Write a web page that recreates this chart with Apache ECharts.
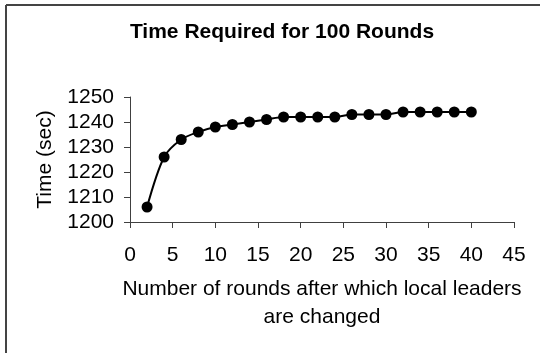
<!DOCTYPE html>
<html>
<head>
<meta charset="utf-8">
<script src="https://cdn.jsdelivr.net/npm/echarts@6/dist/echarts.min.js"></script>
<style>
  html, body { margin: 0; padding: 0; background: #fff; }
  #chart { width: 540px; height: 353px; }
</style>
</head>
<body>
<div id="chart"></div>
<script>
// rounds after which local leaders change
var rounds = [2, 4, 6, 8, 10, 12, 14, 16, 18, 20, 22, 24, 26, 28, 30, 32, 34, 36, 38, 40]
// time needed for 100 rounds (sec)
var timeSec = [1206, 1226, 1233, 1236, 1238, 1239, 1240, 1241, 1242, 1242,
  1242, 1242, 1243, 1243, 1243, 1244, 1244, 1244, 1244, 1244]

var font = 'Arial, "Liberation Sans", sans-serif'
var axisColor = '#404040'

var points = rounds.map(function (r, i) { return [r, timeSec[i]] })

var chart = echarts.init(document.getElementById('chart'))
var option = {
  animation: false,
  backgroundColor: '#fff',
  title: {
    text: 'Time Required for 100 Rounds',
    left: 277,
    textAlign: 'center',
    top: 17,
    textStyle: { fontFamily: font, fontSize: 21, fontWeight: 'bold', color: '#000' }
  },
  grid: { left: 130, right: 26, top: 97, bottom: 131 },
  xAxis: {
    type: 'value',
    min: 0,
    max: 45,
    interval: 5,
    name: 'Number of rounds after which local leaders\nare changed',
    nameLocation: 'middle',
    nameGap: 53,
    nameTextStyle: { fontFamily: font, fontSize: 21, color: '#000', lineHeight: 28 },
    axisLine: { lineStyle: { color: axisColor, width: 1 } },
    axisTick: { show: true, length: 6, lineStyle: { color: axisColor } },
    axisLabel: { fontFamily: font, fontSize: 21, color: '#000', margin: 23 },
    splitLine: { show: false }
  },
  yAxis: {
    type: 'value',
    min: 1200,
    max: 1250,
    interval: 10,
    name: 'Time (sec)',
    nameLocation: 'middle',
    nameGap: 74,
    nameTextStyle: { fontFamily: font, fontSize: 21, color: '#000' },
    axisLine: { show: true, lineStyle: { color: axisColor, width: 1 } },
    axisTick: { show: true, length: 6, lineStyle: { color: axisColor } },
    axisLabel: {
      fontFamily: font, fontSize: 21, color: '#000', margin: 16,
      formatter: function (v) { return String(v) }
    },
    splitLine: { show: false }
  },
  series: [{
    type: 'line',
    data: points,
    smooth: 0.3,
    symbol: 'circle',
    symbolSize: 11,
    lineStyle: { color: '#000', width: 2 },
    itemStyle: { color: '#000' }
  }],
  graphic: [
    { type: 'line', shape: { x1: 6, y1: 5, x2: 540, y2: 5 }, style: { stroke: '#444', lineWidth: 2 } },
    { type: 'line', shape: { x1: 6, y1: 5, x2: 6, y2: 353 }, style: { stroke: '#444', lineWidth: 2 } }
  ]
}
chart.setOption(option)
</script>
</body>
</html>
